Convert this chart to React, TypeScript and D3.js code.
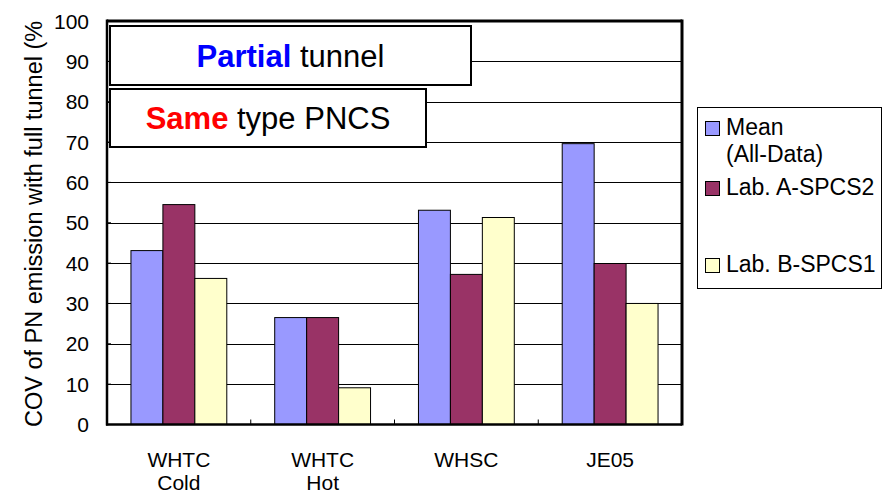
import React from "react";
import * as d3 from "d3";

const categories = [["WHTC", "Cold"], ["WHTC", "Hot"], ["WHSC"], ["JE05"]];
const seriesNames = [["Mean", "(All-Data)"], ["Lab. A-SPCS2"], ["Lab. B-SPCS1"]];
const seriesColors = ["#9999FF", "#993366", "#FFFFCC"];
const meanValues = [43.1, 26.5, 53.1, 69.6];
const labAValues = [54.5, 26.5, 37.2, 39.9];
const labBValues = [36.2, 9.1, 51.3, 30.0];
const yTicks = [0, 10, 20, 30, 40, 50, 60, 70, 80, 90, 100];

const W = 885, H = 493;
const left = 107, right = 682, top = 21, bottom = 424.5;
const font = "'Liberation Sans', Arial, sans-serif";

export default function App() {
  const series = [meanValues, labAValues, labBValues];
  const x = d3.scaleBand<number>().domain(d3.range(categories.length)).range([left, right]).paddingInner(0).paddingOuter(0);
  const y = d3.scaleLinear().domain([0, 100]).range([bottom, top]);
  const bw = x.bandwidth();
  const barW = bw / 4.5;
  const gap = barW * 1.5;
  const legendSwatchY = [121, 181, 258];
  const legendTextY = [135, 195, 272];

  return (
    <svg width={W} height={H} style={{ position: "absolute", left: 0, top: 0, background: "#fff" }} fontFamily={font}>
      <defs>
        <clipPath id="titleClip">
          <rect x={0} y={19} width={W} height={H} />
        </clipPath>
      </defs>
      <rect x={0} y={0} width={W} height={H} fill="#fff" />
      {/* gridlines */}
      {yTicks.filter(t => t > 0 && t < 100).map(t => (
        <line key={t} x1={left} x2={right} y1={Math.round(y(t)) + 0.5} y2={Math.round(y(t)) + 0.5} stroke="#000" strokeWidth={1} />
      ))}
      {/* bars */}
      {series.map((vals, si) =>
        vals.map((v, ci) => (
          <rect key={si + "-" + ci}
            x={(x(ci) as number) + gap / 2 + si * barW}
            y={y(v)}
            width={barW}
            height={y(0) - y(v)}
            fill={seriesColors[si]} stroke="#000" strokeWidth={1} />
        ))
      )}
      {/* frame */}
      <line x1={left} x2={right} y1={top} y2={top} stroke="#000" strokeWidth={3} />
      <line x1={right} x2={right} y1={top - 1.5} y2={bottom + 1} stroke="#000" strokeWidth={3} />
      <line x1={left} x2={left} y1={top - 1.5} y2={bottom + 1} stroke="#000" strokeWidth={2.5} />
      <line x1={left - 1} x2={right} y1={bottom} y2={bottom} stroke="#000" strokeWidth={2.5} />
      {/* y ticks */}
      {yTicks.map(t => (
        <g key={"yt" + t}>
          <line x1={left} x2={left + 4} y1={y(t)} y2={y(t)} stroke="#000" strokeWidth={1} />
          <text x={89} y={y(t)} dy="0.36em" textAnchor="end" fontSize={21} fill="#000">{t}</text>
        </g>
      ))}
      {/* x ticks */}
      {d3.range(1, categories.length).map(i => (
        <line key={"xt" + i} x1={x(i) as number} x2={x(i) as number} y1={bottom} y2={bottom - 5} stroke="#000" strokeWidth={1} />
      ))}
      {categories.map((lines, ci) => (
        <text key={"c" + ci} x={(x(ci) as number) + bw / 2} y={466.5} textAnchor="middle" fontSize={21} fill="#000">
          {lines.map((l, li) => (
            <tspan key={li} x={(x(ci) as number) + bw / 2} dy={li === 0 ? 0 : 23.5}>{l}</tspan>
          ))}
        </text>
      ))}
      {/* y title */}
      <g clipPath="url(#titleClip)">
        <text transform={`translate(41.5, 427) rotate(-90)`} textAnchor="start" fontSize={23.5} fill="#000">
          COV of PN emission with full tunnel (%
        </text>
      </g>
      {/* annotation boxes */}
      <rect x={110} y={26} width={361} height={59} fill="#fff" stroke="#000" strokeWidth={2} />
      <text x={290.5} y={67} textAnchor="middle" fontSize={31} fill="#000">
        <tspan fill="#0000FF" fontWeight="bold">Partial</tspan> tunnel
      </text>
      <rect x={110} y={89} width={316} height={58} fill="#fff" stroke="#000" strokeWidth={2} />
      <text x={268} y={129} textAnchor="middle" fontSize={31} fill="#000">
        <tspan fill="#FF0000" fontWeight="bold">Same</tspan> type PNCS
      </text>
      {/* legend */}
      <rect x={697.5} y={107.5} width={184} height={181} fill="#fff" stroke="#000" strokeWidth={1} />
      {seriesNames.map((lines, si) => (
        <g key={"lg" + si}>
          <rect x={705.5} y={legendSwatchY[si] + 0.5} width={14} height={14} fill={seriesColors[si]} stroke="#000" strokeWidth={1} />
          <text x={726} y={legendTextY[si]} fontSize={23} fill="#000">
            {lines.map((l, li) => (
              <tspan key={li} x={726} dy={li === 0 ? 0 : 27}>{l}</tspan>
            ))}
          </text>
        </g>
      ))}
    </svg>
  );
}
